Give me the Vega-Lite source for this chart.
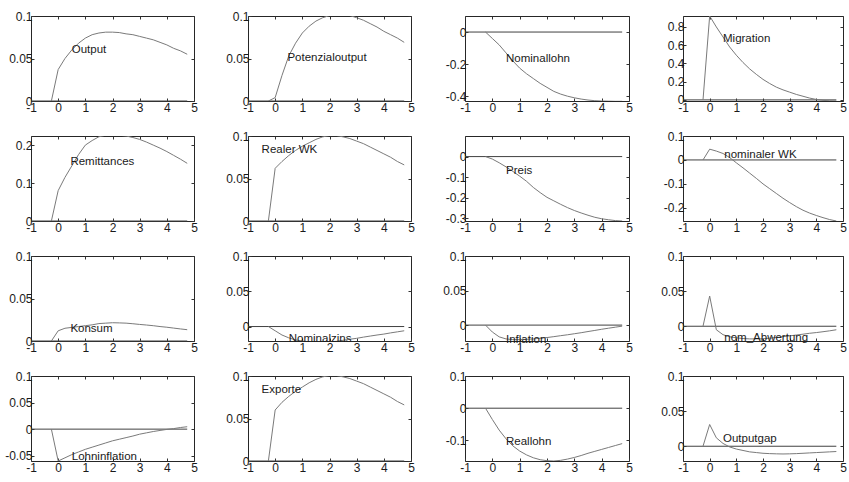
{
  "$schema": "https://vega.github.io/schema/vega-lite/v6.json",
  "background": "white",
  "padding": {"left": 4, "top": 9, "right": 0, "bottom": 0},
  "columns": 4,
  "spacing": {"row": 35, "column": 54},
  "bounds": "flush",
  "datasets": {
    "irf": [
      {"series":"Output","t":-0.25,"value":0},{"series":"Output","t":0,"value":0.037},{"series":"Output","t":0.25,"value":0.05},{"series":"Output","t":0.5,"value":0.06},{"series":"Output","t":0.75,"value":0.068},{"series":"Output","t":1,"value":0.074},{"series":"Output","t":1.25,"value":0.078},{"series":"Output","t":1.5,"value":0.08},{"series":"Output","t":1.75,"value":0.081},{"series":"Output","t":2,"value":0.081},{"series":"Output","t":2.25,"value":0.0805},{"series":"Output","t":2.5,"value":0.079},{"series":"Output","t":2.75,"value":0.078},{"series":"Output","t":3,"value":0.076},{"series":"Output","t":3.25,"value":0.074},{"series":"Output","t":3.5,"value":0.072},{"series":"Output","t":3.75,"value":0.069},{"series":"Output","t":4,"value":0.066},{"series":"Output","t":4.25,"value":0.062},{"series":"Output","t":4.5,"value":0.059},{"series":"Output","t":4.75,"value":0.055},

      {"series":"Potenzialoutput","t":-0.25,"value":0},{"series":"Potenzialoutput","t":0,"value":0.004},{"series":"Potenzialoutput","t":0.25,"value":0.03},{"series":"Potenzialoutput","t":0.5,"value":0.053},{"series":"Potenzialoutput","t":0.75,"value":0.068},{"series":"Potenzialoutput","t":1,"value":0.08},{"series":"Potenzialoutput","t":1.25,"value":0.088},{"series":"Potenzialoutput","t":1.5,"value":0.094},{"series":"Potenzialoutput","t":1.75,"value":0.098},{"series":"Potenzialoutput","t":2,"value":0.1005},{"series":"Potenzialoutput","t":2.25,"value":0.101},{"series":"Potenzialoutput","t":2.5,"value":0.101},{"series":"Potenzialoutput","t":2.75,"value":0.1005},{"series":"Potenzialoutput","t":3,"value":0.098},{"series":"Potenzialoutput","t":3.25,"value":0.095},{"series":"Potenzialoutput","t":3.5,"value":0.091},{"series":"Potenzialoutput","t":3.75,"value":0.087},{"series":"Potenzialoutput","t":4,"value":0.082},{"series":"Potenzialoutput","t":4.25,"value":0.078},{"series":"Potenzialoutput","t":4.5,"value":0.074},{"series":"Potenzialoutput","t":4.75,"value":0.069},

      {"series":"Nominallohn","t":-0.25,"value":0},{"series":"Nominallohn","t":0,"value":-0.04},{"series":"Nominallohn","t":0.25,"value":-0.08},{"series":"Nominallohn","t":0.5,"value":-0.13},{"series":"Nominallohn","t":0.75,"value":-0.18},{"series":"Nominallohn","t":1,"value":-0.225},{"series":"Nominallohn","t":1.25,"value":-0.26},{"series":"Nominallohn","t":1.5,"value":-0.29},{"series":"Nominallohn","t":1.75,"value":-0.32},{"series":"Nominallohn","t":2,"value":-0.345},{"series":"Nominallohn","t":2.25,"value":-0.37},{"series":"Nominallohn","t":2.5,"value":-0.387},{"series":"Nominallohn","t":2.75,"value":-0.4},{"series":"Nominallohn","t":3,"value":-0.41},{"series":"Nominallohn","t":3.25,"value":-0.418},{"series":"Nominallohn","t":3.5,"value":-0.424},{"series":"Nominallohn","t":3.75,"value":-0.428},{"series":"Nominallohn","t":4,"value":-0.43},{"series":"Nominallohn","t":4.25,"value":-0.431},{"series":"Nominallohn","t":4.5,"value":-0.432},{"series":"Nominallohn","t":4.75,"value":-0.432},

      {"series":"Migration","t":-0.25,"value":0},{"series":"Migration","t":0,"value":0.92},{"series":"Migration","t":0.25,"value":0.8},{"series":"Migration","t":0.5,"value":0.69},{"series":"Migration","t":0.75,"value":0.58},{"series":"Migration","t":1,"value":0.49},{"series":"Migration","t":1.25,"value":0.41},{"series":"Migration","t":1.5,"value":0.34},{"series":"Migration","t":1.75,"value":0.28},{"series":"Migration","t":2,"value":0.225},{"series":"Migration","t":2.25,"value":0.18},{"series":"Migration","t":2.5,"value":0.14},{"series":"Migration","t":2.75,"value":0.11},{"series":"Migration","t":3,"value":0.085},{"series":"Migration","t":3.25,"value":0.06},{"series":"Migration","t":3.5,"value":0.04},{"series":"Migration","t":3.75,"value":0.02},{"series":"Migration","t":4,"value":0.005},{"series":"Migration","t":4.25,"value":-0.005},{"series":"Migration","t":4.5,"value":-0.01},{"series":"Migration","t":4.75,"value":-0.012},

      {"series":"Remittances","t":-0.25,"value":0},{"series":"Remittances","t":0,"value":0.08},{"series":"Remittances","t":0.25,"value":0.115},{"series":"Remittances","t":0.5,"value":0.145},{"series":"Remittances","t":0.75,"value":0.175},{"series":"Remittances","t":1,"value":0.2},{"series":"Remittances","t":1.25,"value":0.212},{"series":"Remittances","t":1.5,"value":0.222},{"series":"Remittances","t":1.75,"value":0.226},{"series":"Remittances","t":2,"value":0.227},{"series":"Remittances","t":2.25,"value":0.226},{"series":"Remittances","t":2.5,"value":0.224},{"series":"Remittances","t":2.75,"value":0.22},{"series":"Remittances","t":3,"value":0.215},{"series":"Remittances","t":3.25,"value":0.208},{"series":"Remittances","t":3.5,"value":0.2},{"series":"Remittances","t":3.75,"value":0.192},{"series":"Remittances","t":4,"value":0.183},{"series":"Remittances","t":4.25,"value":0.173},{"series":"Remittances","t":4.5,"value":0.163},{"series":"Remittances","t":4.75,"value":0.152},

      {"series":"Realer WK","t":-0.25,"value":0},{"series":"Realer WK","t":0,"value":0.062},{"series":"Realer WK","t":0.25,"value":0.07},{"series":"Realer WK","t":0.5,"value":0.077},{"series":"Realer WK","t":0.75,"value":0.083},{"series":"Realer WK","t":1,"value":0.088},{"series":"Realer WK","t":1.25,"value":0.092},{"series":"Realer WK","t":1.5,"value":0.096},{"series":"Realer WK","t":1.75,"value":0.099},{"series":"Realer WK","t":2,"value":0.1005},{"series":"Realer WK","t":2.25,"value":0.1005},{"series":"Realer WK","t":2.5,"value":0.099},{"series":"Realer WK","t":2.75,"value":0.097},{"series":"Realer WK","t":3,"value":0.094},{"series":"Realer WK","t":3.25,"value":0.091},{"series":"Realer WK","t":3.5,"value":0.087},{"series":"Realer WK","t":3.75,"value":0.083},{"series":"Realer WK","t":4,"value":0.079},{"series":"Realer WK","t":4.25,"value":0.075},{"series":"Realer WK","t":4.5,"value":0.07},{"series":"Realer WK","t":4.75,"value":0.066},

      {"series":"Preis","t":-0.25,"value":0},{"series":"Preis","t":0,"value":-0.012},{"series":"Preis","t":0.25,"value":-0.03},{"series":"Preis","t":0.5,"value":-0.05},{"series":"Preis","t":0.75,"value":-0.072},{"series":"Preis","t":1,"value":-0.095},{"series":"Preis","t":1.25,"value":-0.12},{"series":"Preis","t":1.5,"value":-0.15},{"series":"Preis","t":1.75,"value":-0.175},{"series":"Preis","t":2,"value":-0.198},{"series":"Preis","t":2.25,"value":-0.215},{"series":"Preis","t":2.5,"value":-0.232},{"series":"Preis","t":2.75,"value":-0.248},{"series":"Preis","t":3,"value":-0.262},{"series":"Preis","t":3.25,"value":-0.274},{"series":"Preis","t":3.5,"value":-0.285},{"series":"Preis","t":3.75,"value":-0.295},{"series":"Preis","t":4,"value":-0.302},{"series":"Preis","t":4.25,"value":-0.307},{"series":"Preis","t":4.5,"value":-0.311},{"series":"Preis","t":4.75,"value":-0.313},

      {"series":"nominaler WK","t":-0.25,"value":0},{"series":"nominaler WK","t":0,"value":0.045},{"series":"nominaler WK","t":0.25,"value":0.037},{"series":"nominaler WK","t":0.5,"value":0.027},{"series":"nominaler WK","t":0.75,"value":0.01},{"series":"nominaler WK","t":1,"value":-0.012},{"series":"nominaler WK","t":1.25,"value":-0.033},{"series":"nominaler WK","t":1.5,"value":-0.055},{"series":"nominaler WK","t":1.75,"value":-0.077},{"series":"nominaler WK","t":2,"value":-0.1},{"series":"nominaler WK","t":2.25,"value":-0.12},{"series":"nominaler WK","t":2.5,"value":-0.14},{"series":"nominaler WK","t":2.75,"value":-0.16},{"series":"nominaler WK","t":3,"value":-0.178},{"series":"nominaler WK","t":3.25,"value":-0.195},{"series":"nominaler WK","t":3.5,"value":-0.21},{"series":"nominaler WK","t":3.75,"value":-0.222},{"series":"nominaler WK","t":4,"value":-0.232},{"series":"nominaler WK","t":4.25,"value":-0.241},{"series":"nominaler WK","t":4.5,"value":-0.249},{"series":"nominaler WK","t":4.75,"value":-0.255},

      {"series":"Konsum","t":-0.25,"value":0},{"series":"Konsum","t":0,"value":0.012},{"series":"Konsum","t":0.25,"value":0.015},{"series":"Konsum","t":0.5,"value":0.016},{"series":"Konsum","t":0.75,"value":0.017},{"series":"Konsum","t":1,"value":0.018},{"series":"Konsum","t":1.25,"value":0.019},{"series":"Konsum","t":1.5,"value":0.0205},{"series":"Konsum","t":1.75,"value":0.021},{"series":"Konsum","t":2,"value":0.0215},{"series":"Konsum","t":2.25,"value":0.0213},{"series":"Konsum","t":2.5,"value":0.021},{"series":"Konsum","t":2.75,"value":0.0203},{"series":"Konsum","t":3,"value":0.0195},{"series":"Konsum","t":3.25,"value":0.0188},{"series":"Konsum","t":3.5,"value":0.018},{"series":"Konsum","t":3.75,"value":0.017},{"series":"Konsum","t":4,"value":0.0162},{"series":"Konsum","t":4.25,"value":0.0152},{"series":"Konsum","t":4.5,"value":0.0142},{"series":"Konsum","t":4.75,"value":0.0133},

      {"series":"Nominalzins","t":-0.25,"value":0},{"series":"Nominalzins","t":0,"value":-0.006},{"series":"Nominalzins","t":0.25,"value":-0.012},{"series":"Nominalzins","t":0.5,"value":-0.016},{"series":"Nominalzins","t":0.75,"value":-0.019},{"series":"Nominalzins","t":1,"value":-0.0205},{"series":"Nominalzins","t":1.25,"value":-0.0215},{"series":"Nominalzins","t":1.5,"value":-0.022},{"series":"Nominalzins","t":1.75,"value":-0.022},{"series":"Nominalzins","t":2,"value":-0.0215},{"series":"Nominalzins","t":2.25,"value":-0.021},{"series":"Nominalzins","t":2.5,"value":-0.0195},{"series":"Nominalzins","t":2.75,"value":-0.018},{"series":"Nominalzins","t":3,"value":-0.0167},{"series":"Nominalzins","t":3.25,"value":-0.015},{"series":"Nominalzins","t":3.5,"value":-0.0135},{"series":"Nominalzins","t":3.75,"value":-0.012},{"series":"Nominalzins","t":4,"value":-0.0107},{"series":"Nominalzins","t":4.25,"value":-0.009},{"series":"Nominalzins","t":4.5,"value":-0.0075},{"series":"Nominalzins","t":4.75,"value":-0.006},

      {"series":"Inflation","t":-0.25,"value":0},{"series":"Inflation","t":0,"value":-0.01},{"series":"Inflation","t":0.25,"value":-0.017},{"series":"Inflation","t":0.5,"value":-0.02},{"series":"Inflation","t":0.75,"value":-0.021},{"series":"Inflation","t":1,"value":-0.021},{"series":"Inflation","t":1.25,"value":-0.0205},{"series":"Inflation","t":1.5,"value":-0.02},{"series":"Inflation","t":1.75,"value":-0.019},{"series":"Inflation","t":2,"value":-0.018},{"series":"Inflation","t":2.25,"value":-0.0167},{"series":"Inflation","t":2.5,"value":-0.0153},{"series":"Inflation","t":2.75,"value":-0.014},{"series":"Inflation","t":3,"value":-0.0125},{"series":"Inflation","t":3.25,"value":-0.011},{"series":"Inflation","t":3.5,"value":-0.0093},{"series":"Inflation","t":3.75,"value":-0.0077},{"series":"Inflation","t":4,"value":-0.006},{"series":"Inflation","t":4.25,"value":-0.0045},{"series":"Inflation","t":4.5,"value":-0.003},{"series":"Inflation","t":4.75,"value":-0.0015},

      {"series":"nom_Abwertung","t":-0.25,"value":0},{"series":"nom_Abwertung","t":0,"value":0.043},{"series":"nom_Abwertung","t":0.25,"value":-0.005},{"series":"nom_Abwertung","t":0.5,"value":-0.012},{"series":"nom_Abwertung","t":0.75,"value":-0.015},{"series":"nom_Abwertung","t":1,"value":-0.0165},{"series":"nom_Abwertung","t":1.25,"value":-0.0175},{"series":"nom_Abwertung","t":1.5,"value":-0.018},{"series":"nom_Abwertung","t":1.75,"value":-0.018},{"series":"nom_Abwertung","t":2,"value":-0.0178},{"series":"nom_Abwertung","t":2.25,"value":-0.017},{"series":"nom_Abwertung","t":2.5,"value":-0.016},{"series":"nom_Abwertung","t":2.75,"value":-0.0148},{"series":"nom_Abwertung","t":3,"value":-0.0137},{"series":"nom_Abwertung","t":3.25,"value":-0.0125},{"series":"nom_Abwertung","t":3.5,"value":-0.0113},{"series":"nom_Abwertung","t":3.75,"value":-0.01},{"series":"nom_Abwertung","t":4,"value":-0.009},{"series":"nom_Abwertung","t":4.25,"value":-0.0078},{"series":"nom_Abwertung","t":4.5,"value":-0.0065},{"series":"nom_Abwertung","t":4.75,"value":-0.005},

      {"series":"Lohninflation","t":-0.25,"value":0},{"series":"Lohninflation","t":0,"value":-0.06},{"series":"Lohninflation","t":0.25,"value":-0.054},{"series":"Lohninflation","t":0.5,"value":-0.048},{"series":"Lohninflation","t":0.75,"value":-0.043},{"series":"Lohninflation","t":1,"value":-0.038},{"series":"Lohninflation","t":1.25,"value":-0.034},{"series":"Lohninflation","t":1.5,"value":-0.03},{"series":"Lohninflation","t":1.75,"value":-0.026},{"series":"Lohninflation","t":2,"value":-0.022},{"series":"Lohninflation","t":2.25,"value":-0.019},{"series":"Lohninflation","t":2.5,"value":-0.016},{"series":"Lohninflation","t":2.75,"value":-0.013},{"series":"Lohninflation","t":3,"value":-0.0095},{"series":"Lohninflation","t":3.25,"value":-0.007},{"series":"Lohninflation","t":3.5,"value":-0.0045},{"series":"Lohninflation","t":3.75,"value":-0.0025},{"series":"Lohninflation","t":4,"value":-0.0005},{"series":"Lohninflation","t":4.25,"value":0.001},{"series":"Lohninflation","t":4.5,"value":0.003},{"series":"Lohninflation","t":4.75,"value":0.0045},

      {"series":"Exporte","t":-0.25,"value":0},{"series":"Exporte","t":0,"value":0.06},{"series":"Exporte","t":0.25,"value":0.069},{"series":"Exporte","t":0.5,"value":0.076},{"series":"Exporte","t":0.75,"value":0.082},{"series":"Exporte","t":1,"value":0.087},{"series":"Exporte","t":1.25,"value":0.092},{"series":"Exporte","t":1.5,"value":0.096},{"series":"Exporte","t":1.75,"value":0.099},{"series":"Exporte","t":2,"value":0.1005},{"series":"Exporte","t":2.25,"value":0.1005},{"series":"Exporte","t":2.5,"value":0.099},{"series":"Exporte","t":2.75,"value":0.097},{"series":"Exporte","t":3,"value":0.094},{"series":"Exporte","t":3.25,"value":0.091},{"series":"Exporte","t":3.5,"value":0.087},{"series":"Exporte","t":3.75,"value":0.083},{"series":"Exporte","t":4,"value":0.079},{"series":"Exporte","t":4.25,"value":0.075},{"series":"Exporte","t":4.5,"value":0.07},{"series":"Exporte","t":4.75,"value":0.066},

      {"series":"Reallohn","t":-0.25,"value":0},{"series":"Reallohn","t":0,"value":-0.035},{"series":"Reallohn","t":0.25,"value":-0.068},{"series":"Reallohn","t":0.5,"value":-0.095},{"series":"Reallohn","t":0.75,"value":-0.117},{"series":"Reallohn","t":1,"value":-0.133},{"series":"Reallohn","t":1.25,"value":-0.145},{"series":"Reallohn","t":1.5,"value":-0.154},{"series":"Reallohn","t":1.75,"value":-0.16},{"series":"Reallohn","t":2,"value":-0.163},{"series":"Reallohn","t":2.25,"value":-0.164},{"series":"Reallohn","t":2.5,"value":-0.162},{"series":"Reallohn","t":2.75,"value":-0.158},{"series":"Reallohn","t":3,"value":-0.153},{"series":"Reallohn","t":3.25,"value":-0.147},{"series":"Reallohn","t":3.5,"value":-0.14},{"series":"Reallohn","t":3.75,"value":-0.134},{"series":"Reallohn","t":4,"value":-0.128},{"series":"Reallohn","t":4.25,"value":-0.122},{"series":"Reallohn","t":4.5,"value":-0.116},{"series":"Reallohn","t":4.75,"value":-0.11},

      {"series":"Outputgap","t":-0.25,"value":0},{"series":"Outputgap","t":0,"value":0.031},{"series":"Outputgap","t":0.25,"value":0.012},{"series":"Outputgap","t":0.5,"value":0.004},{"series":"Outputgap","t":0.75,"value":-0.001},{"series":"Outputgap","t":1,"value":-0.004},{"series":"Outputgap","t":1.25,"value":-0.006},{"series":"Outputgap","t":1.5,"value":-0.008},{"series":"Outputgap","t":1.75,"value":-0.009},{"series":"Outputgap","t":2,"value":-0.01},{"series":"Outputgap","t":2.25,"value":-0.0105},{"series":"Outputgap","t":2.5,"value":-0.0108},{"series":"Outputgap","t":2.75,"value":-0.011},{"series":"Outputgap","t":3,"value":-0.0108},{"series":"Outputgap","t":3.25,"value":-0.0105},{"series":"Outputgap","t":3.5,"value":-0.01},{"series":"Outputgap","t":3.75,"value":-0.0095},{"series":"Outputgap","t":4,"value":-0.009},{"series":"Outputgap","t":4.25,"value":-0.0085},{"series":"Outputgap","t":4.5,"value":-0.008},{"series":"Outputgap","t":4.75,"value":-0.0075}
    ]
  },
  "concat": [
    {"width":163,"height":85,"layer":[
      {"data":{"values":[{}]},"mark":{"type":"rule","color":"#404040","strokeWidth":1},"encoding":{"x":{"datum":-1,"type":"quantitative","scale":{"domain":[-1,5],"nice":false,"zero":false},"axis":{"orient":"top","labels":false,"values":[-1,0,1,2,3,4,5],"title":null}},"x2":{"datum":4.75},"y":{"datum":0,"type":"quantitative","scale":{"domain":[0,0.1],"nice":false,"zero":false},"axis":{"orient":"right","labels":false,"values":[0,0.05,0.1],"title":null}}}},
      {"data":{"name":"irf"},"transform":[{"filter":"datum.series==='Output'"}],"mark":{"type":"line","color":"#7a7a7a","strokeWidth":1,"clip":true},"encoding":{"x":{"field":"t","type":"quantitative","axis":{"values":[-1,0,1,2,3,4,5],"title":null}},"y":{"field":"value","type":"quantitative","axis":{"values":[0,0.05,0.1],"title":null}}}},
      {"data":{"values":[{"t":0.5,"value":0.06,"label":"Output"}]},"mark":{"type":"text","align":"left","baseline":"middle","font":"Liberation Sans","fontSize":11.5,"fill":"#1a1a1a"},"encoding":{"x":{"field":"t","type":"quantitative","axis":null},"y":{"field":"value","type":"quantitative","axis":null},"text":{"field":"label"}}}
    ],"resolve":{"axis":{"x":"independent","y":"independent"}}},

    {"width":163,"height":85,"layer":[
      {"data":{"values":[{}]},"mark":{"type":"rule","color":"#404040","strokeWidth":1},"encoding":{"x":{"datum":-1,"type":"quantitative","scale":{"domain":[-1,5],"nice":false,"zero":false},"axis":{"orient":"top","labels":false,"values":[-1,0,1,2,3,4,5],"title":null}},"x2":{"datum":4.75},"y":{"datum":0,"type":"quantitative","scale":{"domain":[0,0.1],"nice":false,"zero":false},"axis":{"orient":"right","labels":false,"values":[0,0.05,0.1],"title":null}}}},
      {"data":{"name":"irf"},"transform":[{"filter":"datum.series==='Potenzialoutput'"}],"mark":{"type":"line","color":"#7a7a7a","strokeWidth":1,"clip":true},"encoding":{"x":{"field":"t","type":"quantitative","axis":{"values":[-1,0,1,2,3,4,5],"title":null}},"y":{"field":"value","type":"quantitative","axis":{"values":[0,0.05,0.1],"title":null}}}},
      {"data":{"values":[{"t":0.45,"value":0.051,"label":"Potenzialoutput"}]},"mark":{"type":"text","align":"left","baseline":"middle","font":"Liberation Sans","fontSize":11.5,"fill":"#1a1a1a"},"encoding":{"x":{"field":"t","type":"quantitative","axis":null},"y":{"field":"value","type":"quantitative","axis":null},"text":{"field":"label"}}}
    ],"resolve":{"axis":{"x":"independent","y":"independent"}}},

    {"width":164,"height":85,"layer":[
      {"data":{"values":[{}]},"mark":{"type":"rule","color":"#404040","strokeWidth":1},"encoding":{"x":{"datum":-1,"type":"quantitative","scale":{"domain":[-1,5],"nice":false,"zero":false},"axis":{"orient":"top","labels":false,"values":[-1,0,1,2,3,4,5],"title":null}},"x2":{"datum":4.75},"y":{"datum":0,"type":"quantitative","scale":{"domain":[-0.43,0.1],"nice":false,"zero":false},"axis":{"orient":"right","labels":false,"values":[-0.4,-0.2,0],"title":null}}}},
      {"data":{"name":"irf"},"transform":[{"filter":"datum.series==='Nominallohn'"}],"mark":{"type":"line","color":"#7a7a7a","strokeWidth":1,"clip":true},"encoding":{"x":{"field":"t","type":"quantitative","axis":{"values":[-1,0,1,2,3,4,5],"title":null}},"y":{"field":"value","type":"quantitative","axis":{"values":[-0.4,-0.2,0],"title":null}}}},
      {"data":{"values":[{"t":0.5,"value":-0.165,"label":"Nominallohn"}]},"mark":{"type":"text","align":"left","baseline":"middle","font":"Liberation Sans","fontSize":11.5,"fill":"#1a1a1a"},"encoding":{"x":{"field":"t","type":"quantitative","axis":null},"y":{"field":"value","type":"quantitative","axis":null},"text":{"field":"label"}}}
    ],"resolve":{"axis":{"x":"independent","y":"independent"}}},

    {"width":160,"height":85,"layer":[
      {"data":{"values":[{}]},"mark":{"type":"rule","color":"#404040","strokeWidth":1},"encoding":{"x":{"datum":-1,"type":"quantitative","scale":{"domain":[-1,5],"nice":false,"zero":false},"axis":{"orient":"top","labels":false,"values":[-1,0,1,2,3,4,5],"title":null}},"x2":{"datum":4.75},"y":{"datum":0,"type":"quantitative","scale":{"domain":[-0.012,0.92],"nice":false,"zero":false},"axis":{"orient":"right","labels":false,"values":[0,0.2,0.4,0.6,0.8],"title":null}}}},
      {"data":{"name":"irf"},"transform":[{"filter":"datum.series==='Migration'"}],"mark":{"type":"line","color":"#7a7a7a","strokeWidth":1,"clip":true},"encoding":{"x":{"field":"t","type":"quantitative","axis":{"values":[-1,0,1,2,3,4,5],"title":null}},"y":{"field":"value","type":"quantitative","axis":{"values":[0,0.2,0.4,0.6,0.8],"title":null}}}},
      {"data":{"values":[{"t":0.5,"value":0.67,"label":"Migration"}]},"mark":{"type":"text","align":"left","baseline":"middle","font":"Liberation Sans","fontSize":11.5,"fill":"#1a1a1a"},"encoding":{"x":{"field":"t","type":"quantitative","axis":null},"y":{"field":"value","type":"quantitative","axis":null},"text":{"field":"label"}}}
    ],"resolve":{"axis":{"x":"independent","y":"independent"}}},

    {"width":163,"height":85,"layer":[
      {"data":{"values":[{}]},"mark":{"type":"rule","color":"#404040","strokeWidth":1},"encoding":{"x":{"datum":-1,"type":"quantitative","scale":{"domain":[-1,5],"nice":false,"zero":false},"axis":{"orient":"top","labels":false,"values":[-1,0,1,2,3,4,5],"title":null}},"x2":{"datum":4.75},"y":{"datum":0,"type":"quantitative","scale":{"domain":[0,0.224],"nice":false,"zero":false},"axis":{"orient":"right","labels":false,"values":[0,0.1,0.2],"title":null}}}},
      {"data":{"name":"irf"},"transform":[{"filter":"datum.series==='Remittances'"}],"mark":{"type":"line","color":"#7a7a7a","strokeWidth":1,"clip":true},"encoding":{"x":{"field":"t","type":"quantitative","axis":{"values":[-1,0,1,2,3,4,5],"title":null}},"y":{"field":"value","type":"quantitative","axis":{"values":[0,0.1,0.2],"title":null}}}},
      {"data":{"values":[{"t":0.45,"value":0.155,"label":"Remittances"}]},"mark":{"type":"text","align":"left","baseline":"middle","font":"Liberation Sans","fontSize":11.5,"fill":"#1a1a1a"},"encoding":{"x":{"field":"t","type":"quantitative","axis":null},"y":{"field":"value","type":"quantitative","axis":null},"text":{"field":"label"}}}
    ],"resolve":{"axis":{"x":"independent","y":"independent"}}},

    {"width":163,"height":85,"layer":[
      {"data":{"values":[{}]},"mark":{"type":"rule","color":"#404040","strokeWidth":1},"encoding":{"x":{"datum":-1,"type":"quantitative","scale":{"domain":[-1,5],"nice":false,"zero":false},"axis":{"orient":"top","labels":false,"values":[-1,0,1,2,3,4,5],"title":null}},"x2":{"datum":4.75},"y":{"datum":0,"type":"quantitative","scale":{"domain":[0,0.1],"nice":false,"zero":false},"axis":{"orient":"right","labels":false,"values":[0,0.05,0.1],"title":null}}}},
      {"data":{"name":"irf"},"transform":[{"filter":"datum.series==='Realer WK'"}],"mark":{"type":"line","color":"#7a7a7a","strokeWidth":1,"clip":true},"encoding":{"x":{"field":"t","type":"quantitative","axis":{"values":[-1,0,1,2,3,4,5],"title":null}},"y":{"field":"value","type":"quantitative","axis":{"values":[0,0.05,0.1],"title":null}}}},
      {"data":{"values":[{"t":-0.5,"value":0.084,"label":"Realer WK"}]},"mark":{"type":"text","align":"left","baseline":"middle","font":"Liberation Sans","fontSize":11.5,"fill":"#1a1a1a"},"encoding":{"x":{"field":"t","type":"quantitative","axis":null},"y":{"field":"value","type":"quantitative","axis":null},"text":{"field":"label"}}}
    ],"resolve":{"axis":{"x":"independent","y":"independent"}}},

    {"width":164,"height":85,"layer":[
      {"data":{"values":[{}]},"mark":{"type":"rule","color":"#404040","strokeWidth":1},"encoding":{"x":{"datum":-1,"type":"quantitative","scale":{"domain":[-1,5],"nice":false,"zero":false},"axis":{"orient":"top","labels":false,"values":[-1,0,1,2,3,4,5],"title":null}},"x2":{"datum":4.75},"y":{"datum":0,"type":"quantitative","scale":{"domain":[-0.313,0.1],"nice":false,"zero":false},"axis":{"orient":"right","labels":false,"values":[-0.3,-0.2,-0.1,0],"title":null}}}},
      {"data":{"name":"irf"},"transform":[{"filter":"datum.series==='Preis'"}],"mark":{"type":"line","color":"#7a7a7a","strokeWidth":1,"clip":true},"encoding":{"x":{"field":"t","type":"quantitative","axis":{"values":[-1,0,1,2,3,4,5],"title":null}},"y":{"field":"value","type":"quantitative","axis":{"values":[-0.3,-0.2,-0.1,0],"title":null}}}},
      {"data":{"values":[{"t":0.5,"value":-0.07,"label":"Preis"}]},"mark":{"type":"text","align":"left","baseline":"middle","font":"Liberation Sans","fontSize":11.5,"fill":"#1a1a1a"},"encoding":{"x":{"field":"t","type":"quantitative","axis":null},"y":{"field":"value","type":"quantitative","axis":null},"text":{"field":"label"}}}
    ],"resolve":{"axis":{"x":"independent","y":"independent"}}},

    {"width":160,"height":85,"layer":[
      {"data":{"values":[{}]},"mark":{"type":"rule","color":"#404040","strokeWidth":1},"encoding":{"x":{"datum":-1,"type":"quantitative","scale":{"domain":[-1,5],"nice":false,"zero":false},"axis":{"orient":"top","labels":false,"values":[-1,0,1,2,3,4,5],"title":null}},"x2":{"datum":4.75},"y":{"datum":0,"type":"quantitative","scale":{"domain":[-0.255,0.1],"nice":false,"zero":false},"axis":{"orient":"right","labels":false,"values":[-0.2,-0.1,0,0.1],"title":null}}}},
      {"data":{"name":"irf"},"transform":[{"filter":"datum.series==='nominaler WK'"}],"mark":{"type":"line","color":"#7a7a7a","strokeWidth":1,"clip":true},"encoding":{"x":{"field":"t","type":"quantitative","axis":{"values":[-1,0,1,2,3,4,5],"title":null}},"y":{"field":"value","type":"quantitative","axis":{"values":[-0.2,-0.1,0,0.1],"title":null}}}},
      {"data":{"values":[{"t":0.55,"value":0.02,"label":"nominaler WK"}]},"mark":{"type":"text","align":"left","baseline":"middle","font":"Liberation Sans","fontSize":11.5,"fill":"#1a1a1a"},"encoding":{"x":{"field":"t","type":"quantitative","axis":null},"y":{"field":"value","type":"quantitative","axis":null},"text":{"field":"label"}}}
    ],"resolve":{"axis":{"x":"independent","y":"independent"}}},

    {"width":163,"height":85,"layer":[
      {"data":{"values":[{}]},"mark":{"type":"rule","color":"#404040","strokeWidth":1},"encoding":{"x":{"datum":-1,"type":"quantitative","scale":{"domain":[-1,5],"nice":false,"zero":false},"axis":{"orient":"top","labels":false,"values":[-1,0,1,2,3,4,5],"title":null}},"x2":{"datum":4.75},"y":{"datum":0,"type":"quantitative","scale":{"domain":[0,0.1],"nice":false,"zero":false},"axis":{"orient":"right","labels":false,"values":[0,0.05,0.1],"title":null}}}},
      {"data":{"name":"irf"},"transform":[{"filter":"datum.series==='Konsum'"}],"mark":{"type":"line","color":"#7a7a7a","strokeWidth":1,"clip":true},"encoding":{"x":{"field":"t","type":"quantitative","axis":{"values":[-1,0,1,2,3,4,5],"title":null}},"y":{"field":"value","type":"quantitative","axis":{"values":[0,0.05,0.1],"title":null}}}},
      {"data":{"values":[{"t":0.45,"value":0.014,"label":"Konsum"}]},"mark":{"type":"text","align":"left","baseline":"middle","font":"Liberation Sans","fontSize":11.5,"fill":"#1a1a1a"},"encoding":{"x":{"field":"t","type":"quantitative","axis":null},"y":{"field":"value","type":"quantitative","axis":null},"text":{"field":"label"}}}
    ],"resolve":{"axis":{"x":"independent","y":"independent"}}},

    {"width":163,"height":85,"layer":[
      {"data":{"values":[{}]},"mark":{"type":"rule","color":"#404040","strokeWidth":1},"encoding":{"x":{"datum":-1,"type":"quantitative","scale":{"domain":[-1,5],"nice":false,"zero":false},"axis":{"orient":"top","labels":false,"values":[-1,0,1,2,3,4,5],"title":null}},"x2":{"datum":4.75},"y":{"datum":0,"type":"quantitative","scale":{"domain":[-0.0205,0.1],"nice":false,"zero":false},"axis":{"orient":"right","labels":false,"values":[0,0.05,0.1],"title":null}}}},
      {"data":{"name":"irf"},"transform":[{"filter":"datum.series==='Nominalzins'"}],"mark":{"type":"line","color":"#7a7a7a","strokeWidth":1,"clip":true},"encoding":{"x":{"field":"t","type":"quantitative","axis":{"values":[-1,0,1,2,3,4,5],"title":null}},"y":{"field":"value","type":"quantitative","axis":{"values":[0,0.05,0.1],"title":null}}}},
      {"data":{"values":[{"t":0.5,"value":-0.017,"label":"Nominalzins"}]},"mark":{"type":"text","align":"left","baseline":"middle","font":"Liberation Sans","fontSize":11.5,"fill":"#1a1a1a"},"encoding":{"x":{"field":"t","type":"quantitative","axis":null},"y":{"field":"value","type":"quantitative","axis":null},"text":{"field":"label"}}}
    ],"resolve":{"axis":{"x":"independent","y":"independent"}}},

    {"width":164,"height":85,"layer":[
      {"data":{"values":[{}]},"mark":{"type":"rule","color":"#404040","strokeWidth":1},"encoding":{"x":{"datum":-1,"type":"quantitative","scale":{"domain":[-1,5],"nice":false,"zero":false},"axis":{"orient":"top","labels":false,"values":[-1,0,1,2,3,4,5],"title":null}},"x2":{"datum":4.75},"y":{"datum":0,"type":"quantitative","scale":{"domain":[-0.023,0.1],"nice":false,"zero":false},"axis":{"orient":"right","labels":false,"values":[0,0.05,0.1],"title":null}}}},
      {"data":{"name":"irf"},"transform":[{"filter":"datum.series==='Inflation'"}],"mark":{"type":"line","color":"#7a7a7a","strokeWidth":1,"clip":true},"encoding":{"x":{"field":"t","type":"quantitative","axis":{"values":[-1,0,1,2,3,4,5],"title":null}},"y":{"field":"value","type":"quantitative","axis":{"values":[0,0.05,0.1],"title":null}}}},
      {"data":{"values":[{"t":0.5,"value":-0.021,"label":"Inflation"}]},"mark":{"type":"text","align":"left","baseline":"middle","font":"Liberation Sans","fontSize":11.5,"fill":"#1a1a1a"},"encoding":{"x":{"field":"t","type":"quantitative","axis":null},"y":{"field":"value","type":"quantitative","axis":null},"text":{"field":"label"}}}
    ],"resolve":{"axis":{"x":"independent","y":"independent"}}},

    {"width":160,"height":85,"layer":[
      {"data":{"values":[{}]},"mark":{"type":"rule","color":"#404040","strokeWidth":1},"encoding":{"x":{"datum":-1,"type":"quantitative","scale":{"domain":[-1,5],"nice":false,"zero":false},"axis":{"orient":"top","labels":false,"values":[-1,0,1,2,3,4,5],"title":null}},"x2":{"datum":4.75},"y":{"datum":0,"type":"quantitative","scale":{"domain":[-0.021,0.1],"nice":false,"zero":false},"axis":{"orient":"right","labels":false,"values":[0,0.05,0.1],"title":null}}}},
      {"data":{"name":"irf"},"transform":[{"filter":"datum.series==='nom_Abwertung'"}],"mark":{"type":"line","color":"#7a7a7a","strokeWidth":1,"clip":true},"encoding":{"x":{"field":"t","type":"quantitative","axis":{"values":[-1,0,1,2,3,4,5],"title":null}},"y":{"field":"value","type":"quantitative","axis":{"values":[0,0.05,0.1],"title":null}}}},
      {"data":{"values":[{"t":0.55,"value":-0.017,"label":"nom_Abwertung"}]},"mark":{"type":"text","align":"left","baseline":"middle","font":"Liberation Sans","fontSize":11.5,"fill":"#1a1a1a"},"encoding":{"x":{"field":"t","type":"quantitative","axis":null},"y":{"field":"value","type":"quantitative","axis":null},"text":{"field":"label"}}}
    ],"resolve":{"axis":{"x":"independent","y":"independent"}}},

    {"width":163,"height":85,"layer":[
      {"data":{"values":[{}]},"mark":{"type":"rule","color":"#404040","strokeWidth":1},"encoding":{"x":{"datum":-1,"type":"quantitative","scale":{"domain":[-1,5],"nice":false,"zero":false},"axis":{"orient":"top","labels":false,"values":[-1,0,1,2,3,4,5],"title":null}},"x2":{"datum":4.75},"y":{"datum":0,"type":"quantitative","scale":{"domain":[-0.06,0.1],"nice":false,"zero":false},"axis":{"orient":"right","labels":false,"values":[-0.05,0,0.05,0.1],"title":null}}}},
      {"data":{"name":"irf"},"transform":[{"filter":"datum.series==='Lohninflation'"}],"mark":{"type":"line","color":"#7a7a7a","strokeWidth":1,"clip":true},"encoding":{"x":{"field":"t","type":"quantitative","axis":{"values":[-1,0,1,2,3,4,5],"title":null}},"y":{"field":"value","type":"quantitative","axis":{"values":[-0.05,0,0.05,0.1],"title":null}}}},
      {"data":{"values":[{"t":0.5,"value":-0.053,"label":"Lohninflation"}]},"mark":{"type":"text","align":"left","baseline":"middle","font":"Liberation Sans","fontSize":11.5,"fill":"#1a1a1a"},"encoding":{"x":{"field":"t","type":"quantitative","axis":null},"y":{"field":"value","type":"quantitative","axis":null},"text":{"field":"label"}}}
    ],"resolve":{"axis":{"x":"independent","y":"independent"}}},

    {"width":163,"height":85,"layer":[
      {"data":{"values":[{}]},"mark":{"type":"rule","color":"#404040","strokeWidth":1},"encoding":{"x":{"datum":-1,"type":"quantitative","scale":{"domain":[-1,5],"nice":false,"zero":false},"axis":{"orient":"top","labels":false,"values":[-1,0,1,2,3,4,5],"title":null}},"x2":{"datum":4.75},"y":{"datum":0,"type":"quantitative","scale":{"domain":[0,0.1],"nice":false,"zero":false},"axis":{"orient":"right","labels":false,"values":[0,0.05,0.1],"title":null}}}},
      {"data":{"name":"irf"},"transform":[{"filter":"datum.series==='Exporte'"}],"mark":{"type":"line","color":"#7a7a7a","strokeWidth":1,"clip":true},"encoding":{"x":{"field":"t","type":"quantitative","axis":{"values":[-1,0,1,2,3,4,5],"title":null}},"y":{"field":"value","type":"quantitative","axis":{"values":[0,0.05,0.1],"title":null}}}},
      {"data":{"values":[{"t":-0.5,"value":0.083,"label":"Exporte"}]},"mark":{"type":"text","align":"left","baseline":"middle","font":"Liberation Sans","fontSize":11.5,"fill":"#1a1a1a"},"encoding":{"x":{"field":"t","type":"quantitative","axis":null},"y":{"field":"value","type":"quantitative","axis":null},"text":{"field":"label"}}}
    ],"resolve":{"axis":{"x":"independent","y":"independent"}}},

    {"width":164,"height":85,"layer":[
      {"data":{"values":[{}]},"mark":{"type":"rule","color":"#404040","strokeWidth":1},"encoding":{"x":{"datum":-1,"type":"quantitative","scale":{"domain":[-1,5],"nice":false,"zero":false},"axis":{"orient":"top","labels":false,"values":[-1,0,1,2,3,4,5],"title":null}},"x2":{"datum":4.75},"y":{"datum":0,"type":"quantitative","scale":{"domain":[-0.164,0.1],"nice":false,"zero":false},"axis":{"orient":"right","labels":false,"values":[-0.1,0,0.1],"title":null}}}},
      {"data":{"name":"irf"},"transform":[{"filter":"datum.series==='Reallohn'"}],"mark":{"type":"line","color":"#7a7a7a","strokeWidth":1,"clip":true},"encoding":{"x":{"field":"t","type":"quantitative","axis":{"values":[-1,0,1,2,3,4,5],"title":null}},"y":{"field":"value","type":"quantitative","axis":{"values":[-0.1,0,0.1],"title":null}}}},
      {"data":{"values":[{"t":0.5,"value":-0.105,"label":"Reallohn"}]},"mark":{"type":"text","align":"left","baseline":"middle","font":"Liberation Sans","fontSize":11.5,"fill":"#1a1a1a"},"encoding":{"x":{"field":"t","type":"quantitative","axis":null},"y":{"field":"value","type":"quantitative","axis":null},"text":{"field":"label"}}}
    ],"resolve":{"axis":{"x":"independent","y":"independent"}}},

    {"width":160,"height":85,"layer":[
      {"data":{"values":[{}]},"mark":{"type":"rule","color":"#404040","strokeWidth":1},"encoding":{"x":{"datum":-1,"type":"quantitative","scale":{"domain":[-1,5],"nice":false,"zero":false},"axis":{"orient":"top","labels":false,"values":[-1,0,1,2,3,4,5],"title":null}},"x2":{"datum":4.75},"y":{"datum":0,"type":"quantitative","scale":{"domain":[-0.021,0.1],"nice":false,"zero":false},"axis":{"orient":"right","labels":false,"values":[0,0.05,0.1],"title":null}}}},
      {"data":{"name":"irf"},"transform":[{"filter":"datum.series==='Outputgap'"}],"mark":{"type":"line","color":"#7a7a7a","strokeWidth":1,"clip":true},"encoding":{"x":{"field":"t","type":"quantitative","axis":{"values":[-1,0,1,2,3,4,5],"title":null}},"y":{"field":"value","type":"quantitative","axis":{"values":[0,0.05,0.1],"title":null}}}},
      {"data":{"values":[{"t":0.5,"value":0.011,"label":"Outputgap"}]},"mark":{"type":"text","align":"left","baseline":"middle","font":"Liberation Sans","fontSize":11.5,"fill":"#1a1a1a"},"encoding":{"x":{"field":"t","type":"quantitative","axis":null},"y":{"field":"value","type":"quantitative","axis":null},"text":{"field":"label"}}}
    ],"resolve":{"axis":{"x":"independent","y":"independent"}}}
  ],
  "config": {
    "view": {"stroke": "#262626", "strokeWidth": 1},
    "axis": {"grid": false, "domain": false, "tickSize": -3, "tickColor": "#333333", "labelFont": "Liberation Sans", "labelFontSize": 12, "labelColor": "#1a1a1a", "labelPadding": 2, "labelFlush": false, "labelOverlap": false},
    "axisX": {"labelPadding": 4},
    "numberFormat": "~g",
    "locale": {"number": {"decimal": ".", "thousands": ",", "grouping": [3], "currency": ["", ""], "minus": "-"}}
  }
}
